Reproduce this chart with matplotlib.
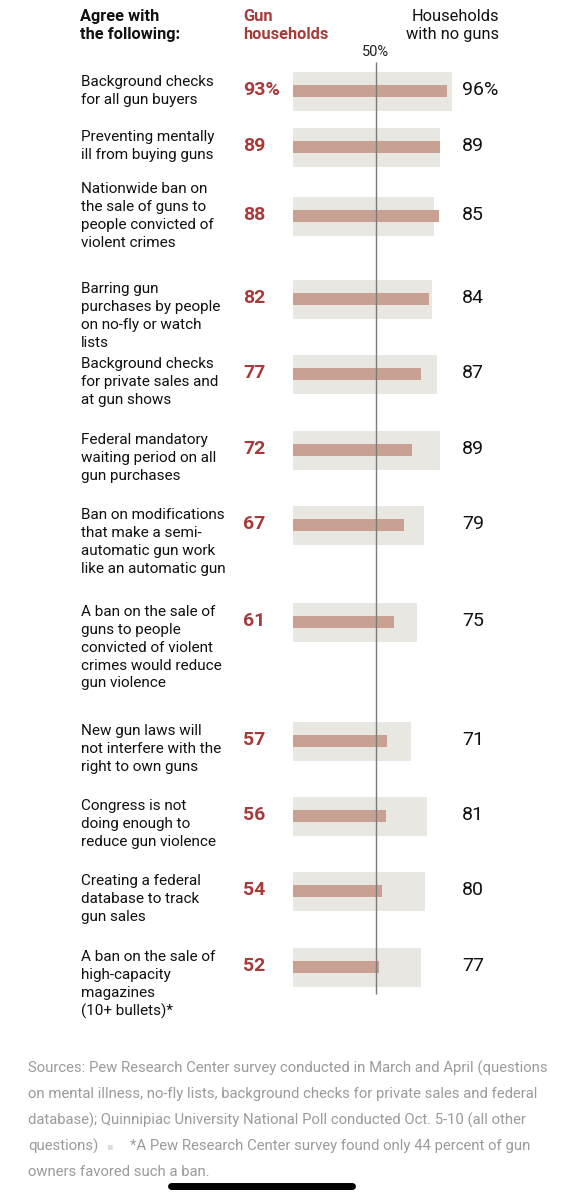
import matplotlib.pyplot as plt

plt.rcParams["font.family"] = ["Roboto", "DejaVu Sans"]

# %% data
labels = [
    "Background checks\nfor all gun buyers",
    "Preventing mentally\nill from buying guns",
    "Nationwide ban on\nthe sale of guns to\npeople convicted of\nviolent crimes",
    "Barring gun\npurchases by people\non no-fly or watch\nlists",
    "Background checks\nfor private sales and\nat gun shows",
    "Federal mandatory\nwaiting period on all\ngun purchases",
    "Ban on modifications\nthat make a semi-\nautomatic gun work\nlike an automatic gun",
    "A ban on the sale of\nguns to people\nconvicted of violent\ncrimes would reduce\ngun violence",
    "New gun laws will\nnot interfere with the\nright to own guns",
    "Congress is not\ndoing enough to\nreduce gun violence",
    "Creating a federal\ndatabase to track\ngun sales",
    "A ban on the sale of\nhigh-capacity\nmagazines\n(10+ bullets)*",
]
gun = [93, 89, 88, 82, 77, 72, 67, 61, 57, 56, 54, 52]
no_guns = [96, 89, 85, 84, 87, 89, 79, 75, 71, 81, 80, 77]

footnote = [
    "Sources: Pew Research Center survey conducted in March and April (questions",
    "on mental illness, no-fly lists, background checks for private sales and federal",
    "database); Quinnipiac University National Poll conducted Oct. 5-10 (all other",
]
footnote_tail = ["questions)", "*A Pew Research Center survey found only 44 percent of gun",
                 "owners favored such a ban."]

# %% layout (pixels)
row_y = [91, 147, 216, 299, 374, 450, 525, 622, 741, 816, 891, 967]
centered_rows = {0, 2}
px_per_pct = 1.656
bar_x0 = 293
ls = 1.35

red = "#a63b3b"
grey_bar = "#e9e7e1"
gun_bar = "#c9a193"
foot_grey = "#9b9b9b"

fig = plt.figure(figsize=(5.85, 12), dpi=100)
ax = fig.add_axes([0, 0, 1, 1])
ax.set_xlim(0, 585)
ax.set_ylim(1200, 0)
ax.axis("off")

bx = fig.add_axes([bar_x0 / 585, 0, (585 - bar_x0) / 585, 1])
bx.set_xlim(0, (585 - bar_x0) / px_per_pct)
bx.set_ylim(1200, 0)
bx.axis("off")
bx.patch.set_alpha(0)

bx.barh(row_y, no_guns, height=39, color=grey_bar, zorder=1)
bx.barh(row_y, gun, height=12, color=gun_bar, zorder=2)
bx.vlines(50, 62, 994, color="#7a7a7a", lw=1.0, zorder=3)
bx.text(50, 52, "50%", ha="center", va="center", fontsize=10.5, color="#222222")

# headers
hfs = 11.8
ax.text(80, 9, "Agree with\nthe following:", ha="left", va="top",
        fontsize=hfs, fontweight="bold", color="#111111", linespacing=1.25)
ax.text(243, 9, "Gun\nhouseholds", ha="left", va="top",
        fontsize=hfs, fontweight="bold", color=red, linespacing=1.25)
ax.text(499, 9, "Households\nwith no guns", ha="right", va="top",
        fontsize=hfs, color="#111111", linespacing=1.25)

for i, (lab, g, n, y) in enumerate(zip(labels, gun, no_guns, row_y)):
    if i in centered_rows:
        ax.text(81, y, lab, ha="left", va="center", fontsize=11,
                color="#111111", linespacing=ls)
    else:
        ax.text(81, y - 17, lab, ha="left", va="top", fontsize=11,
                color="#111111", linespacing=ls)
    suffix = "%" if i == 0 else ""
    ax.text(243, y - 1, f"{g}{suffix}", ha="left", va="center", fontsize=14,
            fontweight="bold", color=red)
    ax.text(462, y - 1, f"{n}{suffix}", ha="left", va="center", fontsize=14,
            color="#111111")

# footnote
fs = 10.75
for k, line in enumerate(footnote):
    ax.text(28, 1068 + 26 * k, line, ha="left", va="center", fontsize=fs,
            color=foot_grey)
ax.text(28, 1146, footnote_tail[0], ha="left", va="center", fontsize=fs,
        color=foot_grey)
ax.text(109, 1146, "\u25aa", ha="center", va="center", fontsize=7,
        color="#dddddd", family="DejaVu Sans")
ax.text(130, 1146, footnote_tail[1], ha="left", va="center", fontsize=fs,
        color=foot_grey)
ax.text(28, 1172, footnote_tail[2], ha="left", va="center", fontsize=fs,
        color=foot_grey)

# phone home indicator
ax.plot([171, 352], [1186, 1186], color="black", lw=5, solid_capstyle="round")

fig.savefig("out.png", dpi=100, facecolor="white")
